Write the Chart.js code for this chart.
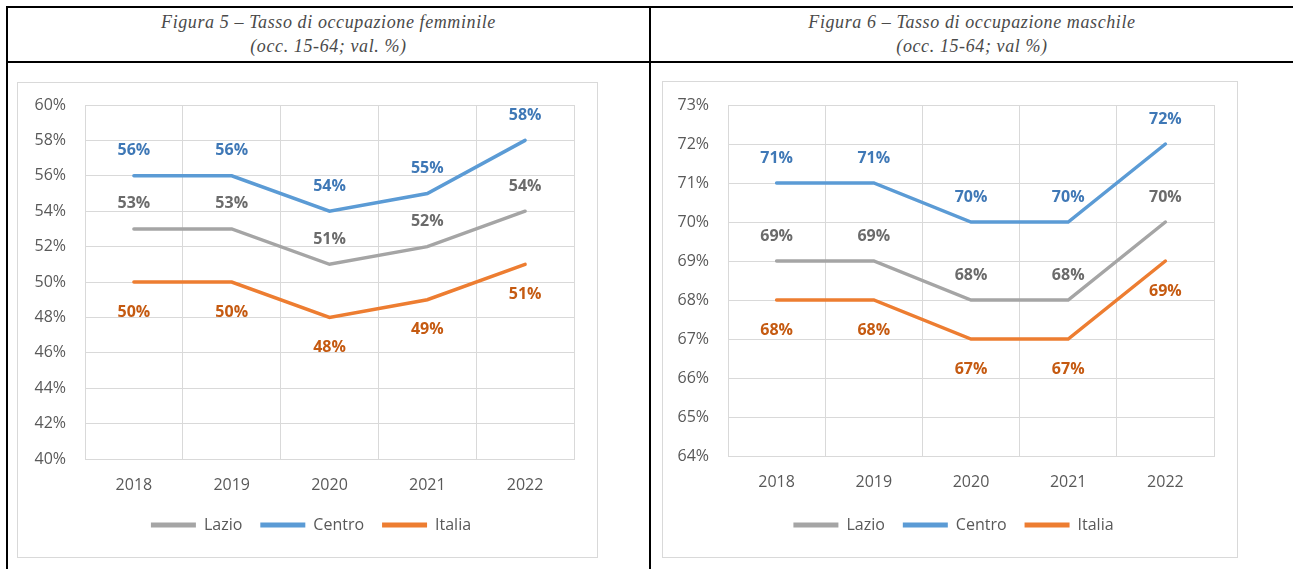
<!DOCTYPE html>
<html>
<head>
<meta charset="utf-8">
<script src="https://cdn.jsdelivr.net/npm/chart.js@4"></script>
<style>
  body { margin: 0; background: #fff; width: 1293px; height: 569px; position: relative; overflow: hidden; }
  .rule { position: absolute; background: #000; }
  .title { position: absolute; top: 10px; text-align: center; font-family: "Liberation Serif", serif; font-style: italic; font-size: 18px; letter-spacing: 0.6px; line-height: 24px; color: #4a4a4a; }
  .frame { position: absolute; border: 1px solid #d9d9d9; box-sizing: border-box; }
  .frame canvas { display: block; }
</style>
</head>
<body>
<div class="rule" style="left:6px; top:6px; width:1287px; height:2px;"></div>
<div class="rule" style="left:6px; top:61px; width:1287px; height:2px;"></div>
<div class="rule" style="left:6px; top:6px; width:2px; height:563px;"></div>
<div class="rule" style="left:649px; top:6px; width:2px; height:563px;"></div>

<div class="title" style="left:8px; width:641px;">Figura 5 – Tasso di occupazione femminile<br>(occ. 15-64; val. %)</div>
<div class="title" style="left:651px; width:642px;">Figura 6 – Tasso di occupazione maschile<br>(occ. 15-64; val %)</div>

<div class="frame" style="left:17px; top:82px; width:581px; height:476px;">
  <canvas id="femminile" width="579" height="474"></canvas>
</div>
<div class="frame" style="left:662px; top:81px; width:576px; height:477px;">
  <canvas id="maschile" width="574" height="475"></canvas>
</div>

<script>
const years = ['2018', '2019', '2020', '2021', '2022'];

// Figura 5 - femminile
const femLazio  = [53, 53, 51, 52, 54];
const femCentro = [56, 56, 54, 55, 58];
const femItalia = [50, 50, 48, 49, 51];

// Figura 6 - maschile
const masLazio  = [69, 69, 68, 68, 70];
const masCentro = [71, 71, 70, 70, 72];
const masItalia = [68, 68, 67, 67, 69];

const GREY = '#A5A5A5';
const BLUE = '#5B9BD5';
const ORANGE = '#ED7D31';
const FONT = 'Open Sans';

// draws the value above / below each point
const valueLabels = {
  id: 'valueLabels',
  afterDatasetsDraw(chart) {
    const ctx = chart.ctx;
    chart.data.datasets.forEach((ds, i) => {
      const meta = chart.getDatasetMeta(i);
      ctx.save();
      ctx.font = 'bold 16px ' + FONT;
      ctx.fillStyle = ds.labelColor;
      ctx.textAlign = 'center';
      ctx.textBaseline = 'middle';
      meta.data.forEach((pt, j) => {
        const dy = ds.labelPos === 'below' ? 30 : -25;
        ctx.fillText(ds.data[j] + '%', pt.x, pt.y + dy);
      });
      ctx.restore();
    });
  }
};

// nudges the legend sideways (the excel legend is centred on the plot, not the canvas)
const legendShift = {
  id: 'legendShift',
  afterLayout(chart, args, opts) {
    const lg = chart.legend;
    if (!lg) return;
    lg.left += opts.x || 0;
    lg.right += opts.x || 0;
  }
};

function series(label, data, color, labelColor, labelPos) {
  return {
    label,
    data,
    borderColor: color,
    backgroundColor: color,
    borderWidth: 3.5,
    borderCapStyle: 'round',
    pointRadius: 0,
    tension: 0,
    labelColor,
    labelPos
  };
}

function makeChart(id, lazio, centro, italia, yMin, yMax, step, yWidth, pad, xHeight, shift) {
  const ctx = document.getElementById(id).getContext('2d');
  return new Chart(ctx, {
    type: 'line',
    data: {
      labels: years,
      datasets: [
        series('Lazio', lazio, GREY, '#6b6b6b', 'above'),
        series('Centro', centro, BLUE, '#3f78b6', 'above'),
        series('Italia', italia, ORANGE, '#c55a11', 'below')
      ]
    },
    options: {
      responsive: false,
      animation: false,
      devicePixelRatio: 1,
      layout: { padding: pad },
      scales: {
        x: {
          offset: true,
          grid: { offset: true, color: '#d9d9d9', drawTicks: false },
          border: { color: '#d9d9d9' },
          ticks: { color: '#595959', font: { family: FONT, size: 16 }, padding: 17 },
          afterFit: (scale) => { scale.height = xHeight; }
        },
        y: {
          min: yMin,
          max: yMax,
          grid: { color: '#d9d9d9', drawTicks: false },
          border: { color: '#d9d9d9' },
          ticks: {
            stepSize: step,
            color: '#595959',
            font: { family: FONT, size: 16 },
            padding: 19,
            callback: (v) => v + '%'
          },
          afterFit: (scale) => {
            scale.width = yWidth;
            scale.paddingTop = 0;
            scale.paddingBottom = 0;
          }
        }
      },
      plugins: {
        tooltip: { enabled: false },
        legendShift: { x: shift },
        legend: {
          position: 'bottom',
          labels: {
            color: '#595959',
            font: { family: FONT, size: 16 },
            boxWidth: 45,
            boxHeight: 5,
            padding: 18,
            generateLabels: (chart) => chart.data.datasets.map((ds, i) => ({
              text: ds.label,
              fillStyle: ds.borderColor,
              strokeStyle: ds.borderColor,
              lineWidth: 0,
              fontColor: '#595959',
              datasetIndex: i
            }))
          }
        }
      }
    },
    plugins: [valueLabels, legendShift]
  });
}

makeChart('femminile', femLazio, femCentro, femItalia, 40, 60, 2, 67,
  { top: 22, right: 23, bottom: 14, left: 0 }, 40, 15);
makeChart('maschile', masLazio, masCentro, masItalia, 64, 73, 1, 65,
  { top: 23, right: 23, bottom: 14, left: 0 }, 43, 15);
</script>
</body>
</html>
